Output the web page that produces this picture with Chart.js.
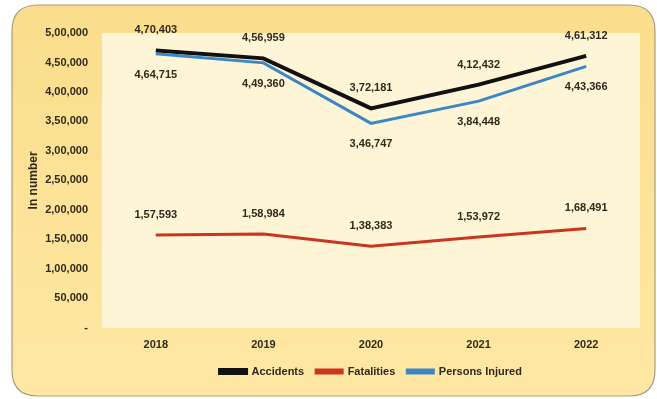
<!DOCTYPE html>
<html>
<head>
<meta charset="utf-8">
<script src="https://cdn.jsdelivr.net/npm/chart.js@4"></script>
<style>
  html, body { margin: 0; padding: 0; background: #ffffff; }
  #wrap { width: 657px; height: 399px; }
</style>
</head>
<body>
<div id="wrap"><canvas id="roadChart" width="657" height="399"></canvas></div>
<script>
/* Road accidents, fatalities and injuries 2018-2022 */

var YEARS = ['2018', '2019', '2020', '2021', '2022'];
var ACCIDENTS = [470403, 456959, 372181, 412432, 461312];
var FATALITIES = [157593, 158984, 138383, 153972, 168491];
var INJURED = [464715, 449360, 346747, 384448, 443366];
var Y_MIN = 0;
var Y_MAX = 500000;
var Y_STEP = 50000;

var TEXT_COLOR = '#2f2a1c';
var FONT_FAMILY = "'Liberation Sans', Arial, sans-serif";

// Indian digit grouping: 5,00,000
function formatIndian(value) {
  if (value === 0) {
    return '-';
  }
  var s = String(Math.round(value));
  if (s.length <= 3) {
    return s;
  }
  var last3 = s.slice(-3);
  var rest = s.slice(0, -3);
  rest = rest.replace(/\B(?=(\d{2})+(?!\d))/g, ',');
  return rest + ',' + last3;
}

// rounded gold frame behind everything, cream plot area
var framePlugin = {
  id: 'frame',
  beforeDraw: function (chart) {
    var ctx = chart.ctx;
    var area = chart.chartArea;
    var x = 12, y = 5, w = 643, h = 391, r = 26;

    ctx.save();
    ctx.beginPath();
    ctx.moveTo(x + r, y);
    ctx.lineTo(x + w - r, y);
    ctx.quadraticCurveTo(x + w, y, x + w, y + r);
    ctx.lineTo(x + w, y + h - r);
    ctx.quadraticCurveTo(x + w, y + h, x + w - r, y + h);
    ctx.lineTo(x + r, y + h);
    ctx.quadraticCurveTo(x, y + h, x, y + h - r);
    ctx.lineTo(x, y + r);
    ctx.quadraticCurveTo(x, y, x + r, y);
    ctx.closePath();
    var grad = ctx.createLinearGradient(0, y, 0, y + h);
    grad.addColorStop(0, '#fadd8c');
    grad.addColorStop(1, '#ffe8a4');
    ctx.fillStyle = grad;
    ctx.fill();
    ctx.lineWidth = 1.2;
    ctx.strokeStyle = '#a89c80';
    ctx.stroke();

    ctx.fillStyle = '#fef4d6';
    ctx.fillRect(area.left, area.top, area.right - area.left, area.bottom - area.top);
    ctx.restore();
  }
};

// value labels: above the point, except Persons Injured which sits below
var valueLabelPlugin = {
  id: 'valueLabels',
  afterDatasetsDraw: function (chart) {
    var ctx = chart.ctx;
    ctx.save();
    ctx.font = 'bold 11px ' + FONT_FAMILY;
    ctx.fillStyle = TEXT_COLOR;
    ctx.textAlign = 'center';
    ctx.textBaseline = 'middle';
    chart.data.datasets.forEach(function (ds, i) {
      var meta = chart.getDatasetMeta(i);
      var below = ds.labelBelow;
      meta.data.forEach(function (pt, j) {
        var ty = below ? pt.y + 21 : pt.y - 20;
        ctx.fillText(formatIndian(ds.data[j]), pt.x, ty);
      });
    });
    ctx.restore();
  }
};

var ctx = document.getElementById('roadChart').getContext('2d');

new Chart(ctx, {
  type: 'line',
  data: {
    labels: YEARS,
    datasets: [
      {
        label: 'Accidents',
        data: ACCIDENTS,
        borderColor: '#111111',
        backgroundColor: '#111111',
        borderWidth: 4,
        pointRadius: 0,
        tension: 0,
        order: 2,
        labelBelow: false
      },
      {
        label: 'Fatalities',
        data: FATALITIES,
        borderColor: '#c9351f',
        backgroundColor: '#c9351f',
        borderWidth: 3,
        pointRadius: 0,
        tension: 0,
        order: 1,
        labelBelow: false
      },
      {
        label: 'Persons Injured',
        data: INJURED,
        borderColor: '#3b86c4',
        backgroundColor: '#3b86c4',
        borderWidth: 3,
        pointRadius: 0,
        tension: 0,
        order: 0,
        labelBelow: true
      }
    ]
  },
  options: {
    responsive: false,
    animation: false,
    layout: {
      padding: { left: 14, right: 17, top: 33, bottom: 12 }
    },
    plugins: {
      legend: {
        position: 'bottom',
        fullSize: false,
        labels: {
          color: TEXT_COLOR,
          font: { family: FONT_FAMILY, size: 11, weight: 'bold' },
          boxWidth: 26,
          boxHeight: 3,
          padding: 12,
          sort: function (a, b) {
            return a.datasetIndex - b.datasetIndex;
          }
        }
      },
      tooltip: { enabled: false }
    },
    scales: {
      x: {
        offset: true,
        grid: { display: false, drawTicks: false },
        border: { display: false },
        ticks: {
          color: TEXT_COLOR,
          font: { family: FONT_FAMILY, size: 11, weight: 'bold' },
          padding: 11
        },
        afterFit: function (scale) {
          scale.height = scale.height - 9;
        }
      },
      y: {
        min: Y_MIN,
        max: Y_MAX,
        grid: { display: false, drawTicks: false },
        border: { display: false },
        ticks: {
          stepSize: Y_STEP,
          color: TEXT_COLOR,
          font: { family: FONT_FAMILY, size: 11, weight: 'bold' },
          padding: 14,
          callback: function (value) {
            return formatIndian(value);
          }
        },
        title: {
          display: true,
          text: 'In number',
          color: TEXT_COLOR,
          font: { family: FONT_FAMILY, size: 12, weight: 'bold' },
          padding: { top: 12, bottom: 0 }
        },
        afterFit: function (scale) {
          scale.width = 88;
        }
      }
    }
  },
  plugins: [framePlugin, valueLabelPlugin]
});
</script>
</body>
</html>
